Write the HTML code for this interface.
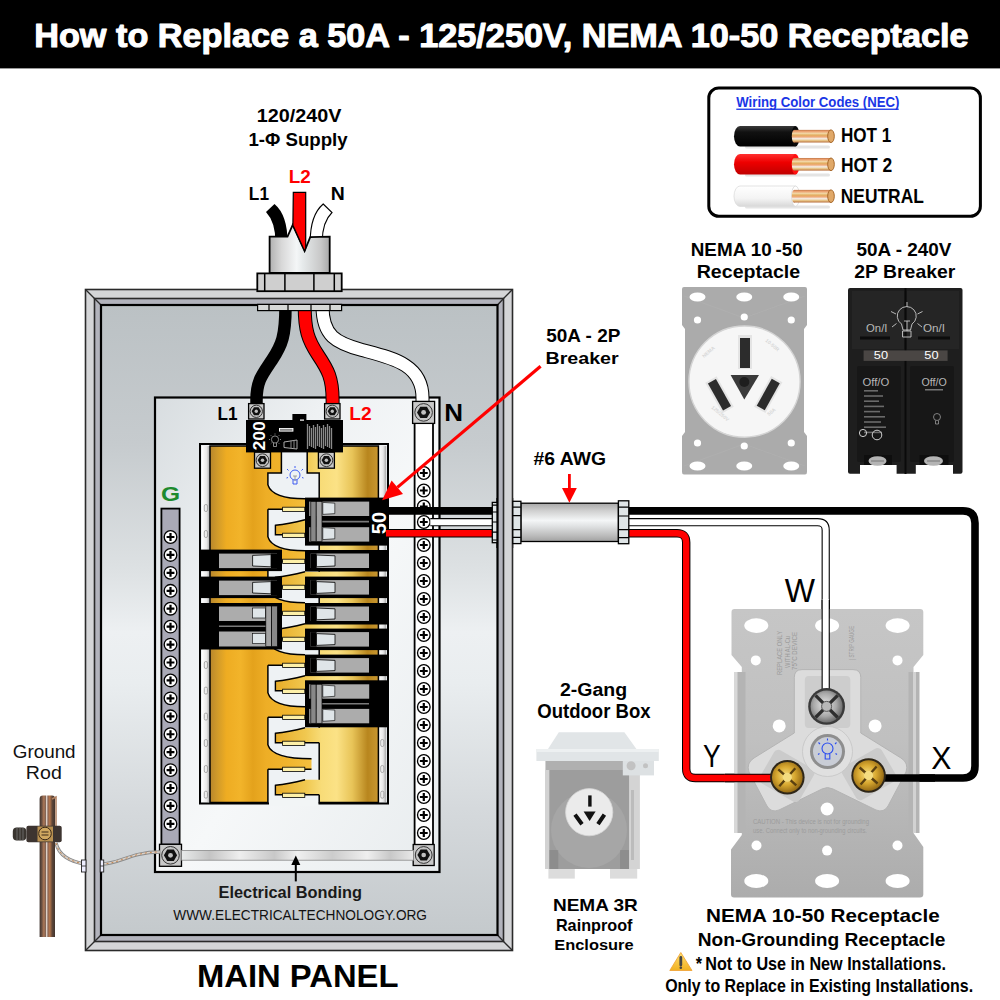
<!DOCTYPE html>
<html><head><meta charset="utf-8"><title>NEMA 10-50 Receptacle</title>
<style>html,body{margin:0;padding:0;background:#fff;}svg{display:block;}</style></head>
<body><svg width="1000" height="1000" viewBox="0 0 1000 1000">
<rect width="1000" height="1000" fill="#fff"/>
<defs>
<linearGradient id="interior" x1="0" y1="0" x2="0" y2="1">
 <stop offset="0" stop-color="#bbc1c4"/><stop offset="0.22" stop-color="#c6cbce"/><stop offset="0.42" stop-color="#dde1e3"/><stop offset="0.52" stop-color="#edf0f2"/><stop offset="0.6" stop-color="#e9edef"/><stop offset="0.8" stop-color="#d5d9dc"/><stop offset="1" stop-color="#c4c9cc"/>
</linearGradient>
<linearGradient id="dead" x1="0" y1="0" x2="1" y2="1">
 <stop offset="0" stop-color="#d8dde0"/><stop offset="0.3" stop-color="#eef1f3"/><stop offset="0.55" stop-color="#f6f8f9"/><stop offset="1" stop-color="#e8ecee"/>
</linearGradient>
<linearGradient id="goldL" gradientUnits="userSpaceOnUse" x1="210" y1="0" x2="312" y2="0">
 <stop offset="0" stop-color="#b8862c"/><stop offset="0.07" stop-color="#d09a2a"/><stop offset="0.16" stop-color="#eeac22"/><stop offset="0.3" stop-color="#f2b42a"/><stop offset="0.42" stop-color="#e4a21c"/><stop offset="0.55" stop-color="#eeae26"/><stop offset="0.75" stop-color="#f0b42c"/><stop offset="1" stop-color="#f4c040"/>
</linearGradient>
<linearGradient id="goldR" gradientUnits="userSpaceOnUse" x1="275" y1="0" x2="378" y2="0">
 <stop offset="0" stop-color="#e8ac28"/><stop offset="0.3" stop-color="#f0c850"/><stop offset="0.45" stop-color="#f8dc78"/><stop offset="0.6" stop-color="#fbe286"/><stop offset="0.75" stop-color="#e8c458"/><stop offset="0.9" stop-color="#b8861e"/><stop offset="1" stop-color="#c89630"/>
</linearGradient>
<linearGradient id="rail" x1="0" y1="0" x2="1" y2="0">
 <stop offset="0" stop-color="#ffffff"/><stop offset="0.6" stop-color="#e8e8e8"/><stop offset="1" stop-color="#a8a8a8"/>
</linearGradient>
<linearGradient id="cyl" x1="0" y1="0" x2="1" y2="0">
 <stop offset="0" stop-color="#b0b0b0"/><stop offset="0.2" stop-color="#d8d8d8"/><stop offset="0.45" stop-color="#f4f6f7"/><stop offset="0.55" stop-color="#e6eaeb"/><stop offset="0.85" stop-color="#c8c8c8"/><stop offset="1" stop-color="#a8a8a8"/>
</linearGradient>
<linearGradient id="cylH" x1="0" y1="0" x2="0" y2="1">
 <stop offset="0" stop-color="#a8a8a8"/><stop offset="0.2" stop-color="#d0d0d0"/><stop offset="0.45" stop-color="#f4f6f7"/><stop offset="0.6" stop-color="#e0e2e3"/><stop offset="0.85" stop-color="#bbbbbb"/><stop offset="1" stop-color="#a0a0a0"/>
</linearGradient>
<linearGradient id="bond" x1="0" y1="0" x2="1" y2="0">
 <stop offset="0" stop-color="#e8eaea"/><stop offset="0.12" stop-color="#c4c4c4"/><stop offset="0.25" stop-color="#eeeeee"/><stop offset="0.4" stop-color="#c8c8c8"/><stop offset="0.5" stop-color="#f0f0f0"/><stop offset="0.65" stop-color="#cccccc"/><stop offset="0.8" stop-color="#efefef"/><stop offset="0.9" stop-color="#c8c8c8"/><stop offset="1" stop-color="#e8e8e8"/>
</linearGradient>
<linearGradient id="copper" x1="0" y1="0" x2="1" y2="0">
 <stop offset="0" stop-color="#40342e"/><stop offset="0.14" stop-color="#6a5042"/><stop offset="0.28" stop-color="#b07a58"/><stop offset="0.38" stop-color="#806050"/><stop offset="0.46" stop-color="#ece4dc"/><stop offset="0.54" stop-color="#8a6454"/><stop offset="0.66" stop-color="#b8784c"/><stop offset="0.82" stop-color="#5e4638"/><stop offset="1" stop-color="#40342e"/>
</linearGradient>
<linearGradient id="cuwire" x1="0" y1="0" x2="0" y2="1">
 <stop offset="0" stop-color="#c07848"/><stop offset="0.12" stop-color="#eca070"/><stop offset="0.28" stop-color="#f2d6a4"/><stop offset="0.42" stop-color="#e2ae60"/><stop offset="0.55" stop-color="#f0a878"/><stop offset="0.7" stop-color="#f4f0ea"/><stop offset="0.85" stop-color="#e6c080"/><stop offset="1" stop-color="#b87040"/>
</linearGradient>
<linearGradient id="plateG" x1="0" y1="0" x2="0" y2="1"><stop offset="0" stop-color="#c6c6c6"/><stop offset="0.45" stop-color="#c0c0c0"/><stop offset="1" stop-color="#acacac"/></linearGradient>
<radialGradient id="brass" cx="0.45" cy="0.45" r="0.6">
 <stop offset="0" stop-color="#f8e080"/><stop offset="0.5" stop-color="#d8a830"/><stop offset="1" stop-color="#8a6010"/>
</radialGradient>
<radialGradient id="silver" cx="0.45" cy="0.45" r="0.6">
 <stop offset="0" stop-color="#e8e8e8"/><stop offset="0.6" stop-color="#a8a8a8"/><stop offset="1" stop-color="#606060"/>
</radialGradient>
<linearGradient id="warn" x1="0" y1="0" x2="0" y2="1">
 <stop offset="0" stop-color="#ffe070"/><stop offset="1" stop-color="#f0b020"/>
</linearGradient>
<linearGradient id="insB" x1="0" y1="0" x2="0" y2="1"><stop offset="0" stop-color="#3a3a3a"/><stop offset="0.3" stop-color="#111"/><stop offset="1" stop-color="#000"/></linearGradient>
<linearGradient id="insR" x1="0" y1="0" x2="0" y2="1"><stop offset="0" stop-color="#ff3030"/><stop offset="0.4" stop-color="#ee0000"/><stop offset="1" stop-color="#c00000"/></linearGradient>
<linearGradient id="insW" x1="0" y1="0" x2="0" y2="1"><stop offset="0" stop-color="#ffffff"/><stop offset="0.6" stop-color="#f4f4f4"/><stop offset="1" stop-color="#d8d8d8"/></linearGradient>
</defs>
<rect x="0" y="0" width="1000" height="68.4" fill="#000"/>
<text x="34.22" y="46.60" font-family="Liberation Sans" font-weight="bold" font-size="34.01" textLength="934.44" lengthAdjust="spacingAndGlyphs" fill="#fff" stroke="#fff" stroke-width="1.1" stroke-linejoin="round">How to Replace a 50A - 125/250V, NEMA 10-50 Receptacle</text>
<text x="256.75" y="121.90" font-family="Liberation Sans" font-weight="bold" font-size="19.19" textLength="84.68" lengthAdjust="spacingAndGlyphs" fill="#000" >120/240V</text>
<text x="248.42" y="145.70" font-family="Liberation Sans" font-weight="bold" font-size="18.02" textLength="99.28" lengthAdjust="spacingAndGlyphs" fill="#000" >1-Φ Supply</text>
<text x="288.74" y="183.00" font-family="Liberation Sans" font-weight="bold" font-size="18.90" textLength="22.02" lengthAdjust="spacingAndGlyphs" fill="#ff0000" >L2</text>
<text x="248.85" y="199.80" font-family="Liberation Sans" font-weight="bold" font-size="19.04" textLength="20.13" lengthAdjust="spacingAndGlyphs" fill="#000" >L1</text>
<text x="330.70" y="199.80" font-family="Liberation Sans" font-weight="bold" font-size="19.04" textLength="14.00" lengthAdjust="spacingAndGlyphs" fill="#000" >N</text>
<rect x="85.5" y="289.5" width="427" height="661" fill="#d4d5d7" stroke="#2a2a2a" stroke-width="1.6"/>
<rect x="94.5" y="298.5" width="409" height="643" fill="#b2b3bc" stroke="#2a2a2a" stroke-width="1.6"/>
<path d="M85.5,289.5 L94.5,298.5 M512.5,289.5 L503.5,298.5 M85.5,950.5 L94.5,941.5 M512.5,950.5 L503.5,941.5 M94.5,298.5 L101,305 M503.5,298.5 L497.5,305 M94.5,941.5 L101,935 M503.5,941.5 L497.5,935" stroke="#2a2a2a" stroke-width="1.4"/>
<rect x="101" y="305" width="396.5" height="630" fill="url(#interior)" stroke="#000" stroke-width="2.2"/>
<rect x="155" y="397.5" width="284.5" height="474.5" fill="url(#dead)" stroke="#000" stroke-width="2.2"/>
<path d="M266,212 L274.5,204 Q287.5,215 287.5,242 L275.4,242 Q275.4,222 266,212 Z" fill="#000"/>
<path d="M323.2,204 L332,212.5 Q322.2,222 322.2,242 L310.2,242 Q310.2,215 323.2,204 Z" fill="#fff" stroke="#000" stroke-width="1.1"/>
<path d="M269.6,273 L269.6,236.6 L287.5,236.6 L292.7,224.9 L304.6,251 L310.2,237.2 L329.7,236.6 L329.7,273 Z" fill="url(#cyl)" stroke="#000" stroke-width="1.8"/>
<path d="M293.3,192.4 L305.7,192.4 L305.7,248 L304.6,251 L292.9,225.3 Z" fill="#ff0000" stroke="#000" stroke-width="1.2"/>
<rect x="257.3" y="273.4" width="84.4" height="17.8" fill="#cfcfcf" stroke="#000" stroke-width="1.8"/>
<path d="M264.7,273.4 V291.2 M284.9,273.4 V291.2 M313.9,273.4 V291.2 M334.3,273.4 V291.2" stroke="#000" stroke-width="1.5"/>
<path d="M285.5,306 C285.5,336 282,345 272,360 C262,375 256.5,381 256.5,400 L256.5,408" fill="none" stroke="#000" stroke-width="12.5"/>
<path d="M304.7,306 C304.7,330 308,340 318,355 C328,370 332.6,378 332.6,400 L332.6,408" fill="none" stroke="#000" stroke-width="14"/>
<path d="M304.7,306 C304.7,330 308,340 318,355 C328,370 332.6,378 332.6,400 L332.6,408" fill="none" stroke="#ff0000" stroke-width="12"/>
<path d="M322.5,306 C322.5,336 336,343 362,350 C392,358 422.5,364 422.5,398 L422.5,405" fill="none" stroke="#000" stroke-width="14"/>
<path d="M322.5,306 C322.5,336 336,343 362,350 C392,358 422.5,364 422.5,398 L422.5,405" fill="none" stroke="#fff" stroke-width="12"/>
<rect x="257.6" y="304.4" width="84" height="6.2" fill="#d6d8d8" stroke="#000" stroke-width="1.2"/>
<path d="M269,304.4 V310.6 M288,304.4 V310.6 M311,304.4 V310.6 M330,304.4 V310.6" stroke="#000" stroke-width="1.2"/>
<rect x="161.4" y="508.6" width="18.2" height="336" fill="#a9a9b6" stroke="#000" stroke-width="1.8"/>
<circle cx="170.50" cy="537.00" r="6.3" fill="#fff" stroke="#000" stroke-width="1.3"/><path d="M166.59,537.00 H174.41 M170.50,533.09 V540.91" stroke="#000" stroke-width="2.2"/>
<circle cx="170.50" cy="554.93" r="6.3" fill="#fff" stroke="#000" stroke-width="1.3"/><path d="M166.59,554.93 H174.41 M170.50,551.02 V558.84" stroke="#000" stroke-width="2.2"/>
<circle cx="170.50" cy="572.86" r="6.3" fill="#fff" stroke="#000" stroke-width="1.3"/><path d="M166.59,572.86 H174.41 M170.50,568.95 V576.77" stroke="#000" stroke-width="2.2"/>
<circle cx="170.50" cy="590.79" r="6.3" fill="#fff" stroke="#000" stroke-width="1.3"/><path d="M166.59,590.79 H174.41 M170.50,586.88 V594.70" stroke="#000" stroke-width="2.2"/>
<circle cx="170.50" cy="608.72" r="6.3" fill="#fff" stroke="#000" stroke-width="1.3"/><path d="M166.59,608.72 H174.41 M170.50,604.81 V612.63" stroke="#000" stroke-width="2.2"/>
<circle cx="170.50" cy="626.65" r="6.3" fill="#fff" stroke="#000" stroke-width="1.3"/><path d="M166.59,626.65 H174.41 M170.50,622.74 V630.56" stroke="#000" stroke-width="2.2"/>
<circle cx="170.50" cy="644.58" r="6.3" fill="#fff" stroke="#000" stroke-width="1.3"/><path d="M166.59,644.58 H174.41 M170.50,640.67 V648.49" stroke="#000" stroke-width="2.2"/>
<circle cx="170.50" cy="662.51" r="6.3" fill="#fff" stroke="#000" stroke-width="1.3"/><path d="M166.59,662.51 H174.41 M170.50,658.60 V666.42" stroke="#000" stroke-width="2.2"/>
<circle cx="170.50" cy="680.44" r="6.3" fill="#fff" stroke="#000" stroke-width="1.3"/><path d="M166.59,680.44 H174.41 M170.50,676.53 V684.35" stroke="#000" stroke-width="2.2"/>
<circle cx="170.50" cy="698.37" r="6.3" fill="#fff" stroke="#000" stroke-width="1.3"/><path d="M166.59,698.37 H174.41 M170.50,694.46 V702.28" stroke="#000" stroke-width="2.2"/>
<circle cx="170.50" cy="716.30" r="6.3" fill="#fff" stroke="#000" stroke-width="1.3"/><path d="M166.59,716.30 H174.41 M170.50,712.39 V720.21" stroke="#000" stroke-width="2.2"/>
<circle cx="170.50" cy="734.23" r="6.3" fill="#fff" stroke="#000" stroke-width="1.3"/><path d="M166.59,734.23 H174.41 M170.50,730.32 V738.14" stroke="#000" stroke-width="2.2"/>
<circle cx="170.50" cy="752.16" r="6.3" fill="#fff" stroke="#000" stroke-width="1.3"/><path d="M166.59,752.16 H174.41 M170.50,748.25 V756.07" stroke="#000" stroke-width="2.2"/>
<circle cx="170.50" cy="770.09" r="6.3" fill="#fff" stroke="#000" stroke-width="1.3"/><path d="M166.59,770.09 H174.41 M170.50,766.18 V774.00" stroke="#000" stroke-width="2.2"/>
<circle cx="170.50" cy="788.02" r="6.3" fill="#fff" stroke="#000" stroke-width="1.3"/><path d="M166.59,788.02 H174.41 M170.50,784.11 V791.93" stroke="#000" stroke-width="2.2"/>
<circle cx="170.50" cy="805.95" r="6.3" fill="#fff" stroke="#000" stroke-width="1.3"/><path d="M166.59,805.95 H174.41 M170.50,802.04 V809.86" stroke="#000" stroke-width="2.2"/>
<circle cx="170.50" cy="823.88" r="6.3" fill="#fff" stroke="#000" stroke-width="1.3"/><path d="M166.59,823.88 H174.41 M170.50,819.97 V827.79" stroke="#000" stroke-width="2.2"/>
<rect x="159.50" y="844.30" width="22.00" height="22.00" fill="#c9c9c9" stroke="#000" stroke-width="1.3"/><circle cx="170.5" cy="855.3" r="8.80" fill="#c4c4c4" stroke="#333" stroke-width="1"/><polygon points="177.10,855.30 173.80,861.02 167.20,861.02 163.90,855.30 167.20,849.58 173.80,849.58" fill="#111"/><circle cx="170.5" cy="855.3" r="2.42" fill="#c0c0c0"/>
<text x="160.99" y="501.00" font-family="Liberation Sans" font-weight="bold" font-size="20.35" textLength="19.13" lengthAdjust="spacingAndGlyphs" fill="#1d8a2e" >G</text>
<rect x="414.6" y="420" width="18.4" height="426" fill="#fff" stroke="#000" stroke-width="1.8"/>
<circle cx="423.80" cy="473.00" r="6.3" fill="#fff" stroke="#000" stroke-width="1.3"/><path d="M419.89,473.00 H427.71 M423.80,469.09 V476.91" stroke="#000" stroke-width="2.2"/>
<circle cx="423.80" cy="490.50" r="6.3" fill="#fff" stroke="#000" stroke-width="1.3"/><path d="M419.89,490.50 H427.71 M423.80,486.59 V494.41" stroke="#000" stroke-width="2.2"/>
<circle cx="423.80" cy="506.50" r="6.3" fill="#fff" stroke="#000" stroke-width="1.3"/><path d="M419.89,506.50 H427.71 M423.80,502.59 V510.41" stroke="#000" stroke-width="2.2"/>
<circle cx="423.80" cy="522.00" r="6.3" fill="#fff" stroke="#000" stroke-width="1.3"/><path d="M419.89,522.00 H427.71 M423.80,518.09 V525.91" stroke="#000" stroke-width="2.2"/>
<circle cx="423.80" cy="545.00" r="6.3" fill="#fff" stroke="#000" stroke-width="1.3"/><path d="M419.89,545.00 H427.71 M423.80,541.09 V548.91" stroke="#000" stroke-width="2.2"/>
<circle cx="423.80" cy="563.00" r="6.3" fill="#fff" stroke="#000" stroke-width="1.3"/><path d="M419.89,563.00 H427.71 M423.80,559.09 V566.91" stroke="#000" stroke-width="2.2"/>
<circle cx="423.80" cy="581.00" r="6.3" fill="#fff" stroke="#000" stroke-width="1.3"/><path d="M419.89,581.00 H427.71 M423.80,577.09 V584.91" stroke="#000" stroke-width="2.2"/>
<circle cx="423.80" cy="599.00" r="6.3" fill="#fff" stroke="#000" stroke-width="1.3"/><path d="M419.89,599.00 H427.71 M423.80,595.09 V602.91" stroke="#000" stroke-width="2.2"/>
<circle cx="423.80" cy="617.00" r="6.3" fill="#fff" stroke="#000" stroke-width="1.3"/><path d="M419.89,617.00 H427.71 M423.80,613.09 V620.91" stroke="#000" stroke-width="2.2"/>
<circle cx="423.80" cy="635.00" r="6.3" fill="#fff" stroke="#000" stroke-width="1.3"/><path d="M419.89,635.00 H427.71 M423.80,631.09 V638.91" stroke="#000" stroke-width="2.2"/>
<circle cx="423.80" cy="653.00" r="6.3" fill="#fff" stroke="#000" stroke-width="1.3"/><path d="M419.89,653.00 H427.71 M423.80,649.09 V656.91" stroke="#000" stroke-width="2.2"/>
<circle cx="423.80" cy="671.00" r="6.3" fill="#fff" stroke="#000" stroke-width="1.3"/><path d="M419.89,671.00 H427.71 M423.80,667.09 V674.91" stroke="#000" stroke-width="2.2"/>
<circle cx="423.80" cy="689.00" r="6.3" fill="#fff" stroke="#000" stroke-width="1.3"/><path d="M419.89,689.00 H427.71 M423.80,685.09 V692.91" stroke="#000" stroke-width="2.2"/>
<circle cx="423.80" cy="707.00" r="6.3" fill="#fff" stroke="#000" stroke-width="1.3"/><path d="M419.89,707.00 H427.71 M423.80,703.09 V710.91" stroke="#000" stroke-width="2.2"/>
<circle cx="423.80" cy="725.00" r="6.3" fill="#fff" stroke="#000" stroke-width="1.3"/><path d="M419.89,725.00 H427.71 M423.80,721.09 V728.91" stroke="#000" stroke-width="2.2"/>
<circle cx="423.80" cy="743.00" r="6.3" fill="#fff" stroke="#000" stroke-width="1.3"/><path d="M419.89,743.00 H427.71 M423.80,739.09 V746.91" stroke="#000" stroke-width="2.2"/>
<circle cx="423.80" cy="761.00" r="6.3" fill="#fff" stroke="#000" stroke-width="1.3"/><path d="M419.89,761.00 H427.71 M423.80,757.09 V764.91" stroke="#000" stroke-width="2.2"/>
<circle cx="423.80" cy="779.00" r="6.3" fill="#fff" stroke="#000" stroke-width="1.3"/><path d="M419.89,779.00 H427.71 M423.80,775.09 V782.91" stroke="#000" stroke-width="2.2"/>
<circle cx="423.80" cy="797.00" r="6.3" fill="#fff" stroke="#000" stroke-width="1.3"/><path d="M419.89,797.00 H427.71 M423.80,793.09 V800.91" stroke="#000" stroke-width="2.2"/>
<circle cx="423.80" cy="815.00" r="6.3" fill="#fff" stroke="#000" stroke-width="1.3"/><path d="M419.89,815.00 H427.71 M423.80,811.09 V818.91" stroke="#000" stroke-width="2.2"/>
<circle cx="423.80" cy="833.00" r="6.3" fill="#fff" stroke="#000" stroke-width="1.3"/><path d="M419.89,833.00 H427.71 M423.80,829.09 V836.91" stroke="#000" stroke-width="2.2"/>
<rect x="412.60" y="401.40" width="22.00" height="22.00" fill="#c9c9c9" stroke="#000" stroke-width="1.3"/><circle cx="423.6" cy="412.4" r="8.80" fill="#c4c4c4" stroke="#333" stroke-width="1"/><polygon points="430.20,412.40 426.90,418.12 420.30,418.12 417.00,412.40 420.30,406.68 426.90,406.68" fill="#111"/><circle cx="423.6" cy="412.4" r="2.42" fill="#c0c0c0"/>
<rect x="413.20" y="844.50" width="21.00" height="21.00" fill="#c9c9c9" stroke="#000" stroke-width="1.3"/><circle cx="423.7" cy="855" r="8.40" fill="#c4c4c4" stroke="#333" stroke-width="1"/><polygon points="430.00,855.00 426.85,860.46 420.55,860.46 417.40,855.00 420.55,849.54 426.85,849.54" fill="#111"/><circle cx="423.7" cy="855" r="2.31" fill="#c0c0c0"/>
<text x="444.26" y="421.00" font-family="Liberation Sans" font-weight="bold" font-size="24.71" textLength="18.79" lengthAdjust="spacingAndGlyphs" fill="#000" >N</text>
<rect x="181.6" y="850.4" width="232" height="9.8" fill="url(#bond)" stroke="#8a8a8a" stroke-width="0.8"/>
<rect x="200" y="444" width="188" height="359.5" fill="#eef2f4" stroke="#000" stroke-width="2"/>
<rect x="269" y="800" width="49.5" height="6" fill="#f2f5f6"/>
<rect x="202" y="446" width="7.8" height="356" fill="url(#rail)"/>
<rect x="378.4" y="446" width="7.8" height="356" fill="url(#rail)"/>
<rect x="204.3" y="504.5" width="3.2" height="7" rx="1.5" fill="none" stroke="#999" stroke-width="0.8"/>
<rect x="204.3" y="530.5" width="3.2" height="7" rx="1.5" fill="none" stroke="#999" stroke-width="0.8"/>
<rect x="204.3" y="661.5" width="3.2" height="7" rx="1.5" fill="none" stroke="#999" stroke-width="0.8"/>
<rect x="204.3" y="687.1" width="3.2" height="7" rx="1.5" fill="none" stroke="#999" stroke-width="0.8"/>
<rect x="204.3" y="713.1" width="3.2" height="7" rx="1.5" fill="none" stroke="#999" stroke-width="0.8"/>
<rect x="204.3" y="739.5" width="3.2" height="7" rx="1.5" fill="none" stroke="#999" stroke-width="0.8"/>
<rect x="204.3" y="765.5" width="3.2" height="7" rx="1.5" fill="none" stroke="#999" stroke-width="0.8"/>
<rect x="204.3" y="791.2" width="3.2" height="7" rx="1.5" fill="none" stroke="#999" stroke-width="0.8"/>
<rect x="380.7" y="739.5" width="3.2" height="7" rx="1.5" fill="none" stroke="#999" stroke-width="0.8"/>
<rect x="380.7" y="765.5" width="3.2" height="7" rx="1.5" fill="none" stroke="#999" stroke-width="0.8"/>
<rect x="380.7" y="791.2" width="3.2" height="7" rx="1.5" fill="none" stroke="#999" stroke-width="0.8"/>
<path d="M210,446 H281.4 V473 H267.9 V802.5 H210 Z" fill="url(#goldL)" stroke="#000" stroke-width="1.5"/>
<path d="M307.2,446 H378.4 V802.5 H319.2 V473 H307.2 Z" fill="url(#goldR)" stroke="#000" stroke-width="1.5"/>
<path d="M266.5,485.0 L267.9,485.0 C271,494.3 284,498.8 305,498.8 L305,509.3 L266.5,509.3 Z" fill="url(#goldL)"/>
<path d="M267.9,485.0 C271,494.3 284,498.8 305,498.8 M305,509.3 L267.9,509.3" fill="none" stroke="#000" stroke-width="1.4"/>
<rect x="282.6" y="507.2" width="22.2" height="4.2" fill="#fdf0a8" stroke="#000" stroke-width="0.8"/>
<path d="M275.4,525.3 C285,524.3 295,522.3 305,519.8 L320.5,519.8 L320.5,534.8 L275.4,534.8 Z" fill="url(#goldR)"/>
<path d="M305,519.8 C295,522.3 285,524.3 275.4,525.3 L275.4,534.8 L319.2,534.8" fill="none" stroke="#000" stroke-width="1.4"/>
<rect x="282.6" y="533.2" width="22.2" height="4.2" fill="#fdf0a8" stroke="#000" stroke-width="0.8"/>
<path d="M266.5,537.0 L267.9,537.0 C271,546.3 284,550.8 305,550.8 L305,561.3 L266.5,561.3 Z" fill="url(#goldL)"/>
<path d="M267.9,537.0 C271,546.3 284,550.8 305,550.8 M305,561.3 L267.9,561.3" fill="none" stroke="#000" stroke-width="1.4"/>
<rect x="282.6" y="559.2" width="22.2" height="4.2" fill="#fdf0a8" stroke="#000" stroke-width="0.8"/>
<path d="M275.4,577.3 C285,576.3 295,574.3 305,571.8 L320.5,571.8 L320.5,586.8 L275.4,586.8 Z" fill="url(#goldR)"/>
<path d="M305,571.8 C295,574.3 285,576.3 275.4,577.3 L275.4,586.8 L319.2,586.8" fill="none" stroke="#000" stroke-width="1.4"/>
<rect x="282.6" y="585.2" width="22.2" height="4.2" fill="#fdf0a8" stroke="#000" stroke-width="0.8"/>
<path d="M266.5,589.0 L267.9,589.0 C271,598.3 284,602.8 305,602.8 L305,613.3 L266.5,613.3 Z" fill="url(#goldL)"/>
<path d="M267.9,589.0 C271,598.3 284,602.8 305,602.8 M305,613.3 L267.9,613.3" fill="none" stroke="#000" stroke-width="1.4"/>
<rect x="282.6" y="611.2" width="22.2" height="4.2" fill="#fdf0a8" stroke="#000" stroke-width="0.8"/>
<path d="M275.4,629.3 C285,628.3 295,626.3 305,623.8 L320.5,623.8 L320.5,638.8 L275.4,638.8 Z" fill="url(#goldR)"/>
<path d="M305,623.8 C295,626.3 285,628.3 275.4,629.3 L275.4,638.8 L319.2,638.8" fill="none" stroke="#000" stroke-width="1.4"/>
<rect x="282.6" y="637.2" width="22.2" height="4.2" fill="#fdf0a8" stroke="#000" stroke-width="0.8"/>
<path d="M266.5,641.0 L267.9,641.0 C271,650.3 284,654.8 305,654.8 L305,665.3 L266.5,665.3 Z" fill="url(#goldL)"/>
<path d="M267.9,641.0 C271,650.3 284,654.8 305,654.8 M305,665.3 L267.9,665.3" fill="none" stroke="#000" stroke-width="1.4"/>
<rect x="282.6" y="663.2" width="22.2" height="4.2" fill="#fdf0a8" stroke="#000" stroke-width="0.8"/>
<path d="M275.4,681.3 C285,680.3 295,678.3 305,675.8 L320.5,675.8 L320.5,690.8 L275.4,690.8 Z" fill="url(#goldR)"/>
<path d="M305,675.8 C295,678.3 285,680.3 275.4,681.3 L275.4,690.8 L319.2,690.8" fill="none" stroke="#000" stroke-width="1.4"/>
<rect x="282.6" y="689.2" width="22.2" height="4.2" fill="#fdf0a8" stroke="#000" stroke-width="0.8"/>
<path d="M266.5,693.0 L267.9,693.0 C271,702.3 284,706.8 305,706.8 L305,717.3 L266.5,717.3 Z" fill="url(#goldL)"/>
<path d="M267.9,693.0 C271,702.3 284,706.8 305,706.8 M305,717.3 L267.9,717.3" fill="none" stroke="#000" stroke-width="1.4"/>
<rect x="282.6" y="715.2" width="22.2" height="4.2" fill="#fdf0a8" stroke="#000" stroke-width="0.8"/>
<path d="M275.4,733.3 C285,732.3 295,730.3 305,727.8 L320.5,727.8 L320.5,742.8 L275.4,742.8 Z" fill="url(#goldR)"/>
<path d="M305,727.8 C295,730.3 285,732.3 275.4,733.3 L275.4,742.8 L319.2,742.8" fill="none" stroke="#000" stroke-width="1.4"/>
<rect x="282.6" y="741.2" width="22.2" height="4.2" fill="#fdf0a8" stroke="#000" stroke-width="0.8"/>
<path d="M266.5,745.0 L267.9,745.0 C271,754.3 284,758.8 311.5,758.8 L311.5,769.3 L266.5,769.3 Z" fill="url(#goldL)"/>
<path d="M267.9,745.0 C271,754.3 284,758.8 311.5,758.8 M311.5,769.3 L267.9,769.3" fill="none" stroke="#000" stroke-width="1.4"/>
<rect x="282.6" y="767.2" width="22.2" height="4.2" fill="#fdf0a8" stroke="#000" stroke-width="0.8"/>
<path d="M275.4,785.3 C285,784.3 295,782.3 305,779.8 L320.5,779.8 L320.5,794.8 L275.4,794.8 Z" fill="url(#goldR)"/>
<path d="M305,779.8 C295,782.3 285,784.3 275.4,785.3 L275.4,794.8 L319.2,794.8" fill="none" stroke="#000" stroke-width="1.4"/>
<rect x="282.6" y="793.2" width="22.2" height="4.2" fill="#fdf0a8" stroke="#000" stroke-width="0.8"/>
<rect x="305" y="497.6" width="83" height="48" fill="#000"/><rect x="309.2" y="501.6" width="60" height="14.4" fill="#acacac"/><rect x="309.2" y="527.2" width="60" height="14.4" fill="#acacac"/><path d="M322,521.6 H369" stroke="#7a7a7a" stroke-width="1.6"/><path d="M322.8,502.40000000000003 L334.8,503.20000000000005 V513.6 L322.8,514.4 Z" fill="#dfe5e8" stroke="#000" stroke-width="0.6"/><path d="M322.8,527.6 L334.8,528.4 V538.8000000000001 L322.8,539.6 Z" fill="#dfe5e8" stroke="#000" stroke-width="0.6"/><rect x="310.8" y="501.6" width="5.4" height="40" fill="#888" stroke="#000" stroke-width="0.7"/><rect x="316.2" y="501.6" width="5.8" height="40" fill="#a2a2a2" stroke="#000" stroke-width="0.7"/>
<g transform="translate(386,533.6) rotate(-90)"><text x="-0.61" y="0.00" font-family="Liberation Sans" font-weight="bold" font-size="20.64" textLength="22.23" lengthAdjust="spacingAndGlyphs" fill="#fff" >50</text></g>
<rect x="305" y="550" width="83" height="21.5" fill="#000"/><rect x="310.6" y="553.5" width="58.4" height="14.5" fill="#acacac"/><rect x="310.6" y="553.5" width="6" height="14.5" fill="#000"/><path d="M316.5,555 L335,555.8 L335,566 L316.5,566.8 Z" fill="#dfe5e8" stroke="#000" stroke-width="0.8"/>
<rect x="305" y="576.6" width="83" height="21.5" fill="#000"/><rect x="310.6" y="580.1" width="58.4" height="14.5" fill="#acacac"/><rect x="310.6" y="580.1" width="6" height="14.5" fill="#000"/><path d="M316.5,581.6 L335,582.4 L335,592.6 L316.5,593.4 Z" fill="#dfe5e8" stroke="#000" stroke-width="0.8"/>
<rect x="305" y="603" width="83" height="21.5" fill="#000"/><rect x="310.6" y="606.5" width="58.4" height="14.5" fill="#acacac"/><rect x="310.6" y="606.5" width="6" height="14.5" fill="#000"/><path d="M316.5,608 L335,608.8 L335,619 L316.5,619.8 Z" fill="#dfe5e8" stroke="#000" stroke-width="0.8"/>
<rect x="305" y="628.6" width="83" height="21.5" fill="#000"/><rect x="310.6" y="632.1" width="58.4" height="14.5" fill="#acacac"/><rect x="310.6" y="632.1" width="6" height="14.5" fill="#000"/><path d="M316.5,633.6 L335,634.4 L335,644.6 L316.5,645.4 Z" fill="#dfe5e8" stroke="#000" stroke-width="0.8"/>
<rect x="305" y="654.6" width="83" height="21.5" fill="#000"/><rect x="310.6" y="658.1" width="58.4" height="14.5" fill="#acacac"/><rect x="310.6" y="658.1" width="6" height="14.5" fill="#000"/><path d="M316.5,659.6 L335,660.4 L335,670.6 L316.5,671.4 Z" fill="#dfe5e8" stroke="#000" stroke-width="0.8"/>
<rect x="305" y="680.3" width="83" height="47" fill="#000"/><rect x="309.2" y="684.3" width="60" height="14.4" fill="#acacac"/><rect x="309.2" y="708.9" width="60" height="14.4" fill="#acacac"/><path d="M322,703.8 H369" stroke="#7a7a7a" stroke-width="1.6"/><path d="M322.8,685.0999999999999 L334.8,685.9 V696.3 L322.8,697.0999999999999 Z" fill="#dfe5e8" stroke="#000" stroke-width="0.6"/><path d="M322.8,709.3 L334.8,710.0999999999999 V720.5 L322.8,721.3 Z" fill="#dfe5e8" stroke="#000" stroke-width="0.6"/><rect x="310.8" y="684.3" width="5.4" height="39" fill="#888" stroke="#000" stroke-width="0.7"/><rect x="316.2" y="684.3" width="5.8" height="39" fill="#a2a2a2" stroke="#000" stroke-width="0.7"/>
<rect x="200" y="549.6" width="82" height="21.5" fill="#000"/><rect x="219" y="553.6" width="58" height="14.5" fill="#acacac"/><rect x="271" y="553.6" width="6" height="14.5" fill="#000"/><path d="M252.6,555.4 L271,554.6 L271,566.8000000000001 L252.6,566.0 Z" fill="#dfe5e8" stroke="#000" stroke-width="0.8"/>
<rect x="200" y="576.6" width="82" height="21.5" fill="#000"/><rect x="219" y="580.6" width="58" height="14.5" fill="#acacac"/><rect x="271" y="580.6" width="6" height="14.5" fill="#000"/><path d="M252.6,582.4 L271,581.6 L271,593.8000000000001 L252.6,593.0 Z" fill="#dfe5e8" stroke="#000" stroke-width="0.8"/>
<rect x="200" y="603" width="82" height="46.5" fill="#000"/><rect x="219" y="606.5" width="58" height="14.5" fill="#acacac"/><rect x="219" y="631.5" width="58" height="15" fill="#acacac"/><path d="M219,626.25 H266" stroke="#7a7a7a" stroke-width="1.6"/><rect x="252.6" y="608" width="13" height="10" fill="#dfe5e8" stroke="#000" stroke-width="0.6"/><rect x="252.6" y="633.5" width="13" height="10" fill="#dfe5e8" stroke="#000" stroke-width="0.6"/><rect x="265.8" y="606" width="5.8" height="40.5" fill="#a2a2a2" stroke="#000" stroke-width="0.7"/><rect x="271.6" y="606" width="5.8" height="40.5" fill="#888" stroke="#000" stroke-width="0.7"/>
<rect x="292.4" y="414" width="14" height="8" fill="#000"/>
<rect x="246" y="420" width="97" height="32.4" fill="#000"/>
<rect x="300" y="419.5" width="4" height="1.2" fill="#fff"/>
<g transform="translate(265.4,450) rotate(-90)"><text x="-0.61" y="0.00" font-family="Liberation Sans" font-weight="bold" font-size="16.28" textLength="29.33" lengthAdjust="spacingAndGlyphs" fill="#fff" >200</text></g>
<rect x="279" y="428" width="14.4" height="3.6" fill="#fff"/><rect x="280" y="428.8" width="12.4" height="2" fill="#888"/>
<g stroke="#aaa" stroke-width="0.8" fill="none"><circle cx="275" cy="439.5" r="3.6"/><path d="M273.5,443 V446.5 H276.5 V443 M269,439.5 H270 M280,439.5 H281 M275,433.5 V434.5 M270.8,435.3 L271.5,436 M279.2,435.3 L278.5,436 M270.8,443.7 L271.5,443 M279.2,443.7 L278.5,443"/></g>
<path d="M284,442 L297,440 L297,449 L284,447.5 Z" fill="none" stroke="#aaa" stroke-width="1"/><path d="M291,440.5 V448.5 M294,440.3 V448.8" stroke="#888" stroke-width="1"/>
<path d="M307.5,424 V449" stroke="#8a8a8a" stroke-width="1.3"/>
<path d="M309.5,426 V446" stroke="#8a8a8a" stroke-width="1.3"/>
<path d="M311.5,428 V447" stroke="#8a8a8a" stroke-width="1.3"/>
<path d="M313.5,425 V448" stroke="#8a8a8a" stroke-width="1.3"/>
<path d="M315.5,427 V449" stroke="#8a8a8a" stroke-width="1.3"/>
<path d="M317.5,424 V446" stroke="#8a8a8a" stroke-width="1.3"/>
<path d="M319.5,426 V447" stroke="#8a8a8a" stroke-width="1.3"/>
<path d="M321.5,428 V448" stroke="#8a8a8a" stroke-width="1.3"/>
<path d="M323.5,425 V449" stroke="#8a8a8a" stroke-width="1.3"/>
<path d="M325.5,427 V446" stroke="#8a8a8a" stroke-width="1.3"/>
<path d="M327.5,424 V447" stroke="#8a8a8a" stroke-width="1.3"/>
<path d="M329.5,426 V448" stroke="#8a8a8a" stroke-width="1.3"/>
<path d="M331.5,428 V449" stroke="#8a8a8a" stroke-width="1.3"/>
<rect x="248.60" y="403.60" width="15.40" height="15.40" fill="#c9c9c9" stroke="#000" stroke-width="1.3"/><circle cx="256.3" cy="411.3" r="6.16" fill="#c4c4c4" stroke="#333" stroke-width="1"/><polygon points="260.92,411.30 258.61,415.30 253.99,415.30 251.68,411.30 253.99,407.30 258.61,407.30" fill="#111"/><circle cx="256.3" cy="411.3" r="1.69" fill="#c0c0c0"/>
<rect x="324.60" y="403.60" width="15.40" height="15.40" fill="#c9c9c9" stroke="#000" stroke-width="1.3"/><circle cx="332.3" cy="411.3" r="6.16" fill="#c4c4c4" stroke="#333" stroke-width="1"/><polygon points="336.92,411.30 334.61,415.30 329.99,415.30 327.68,411.30 329.99,407.30 334.61,407.30" fill="#111"/><circle cx="332.3" cy="411.3" r="1.69" fill="#c0c0c0"/>
<rect x="254.50" y="452.20" width="16.00" height="16.00" fill="#c9c9c9" stroke="#000" stroke-width="1.3"/><circle cx="262.5" cy="460.2" r="6.40" fill="#c4c4c4" stroke="#333" stroke-width="1"/><polygon points="267.30,460.20 264.90,464.36 260.10,464.36 257.70,460.20 260.10,456.04 264.90,456.04" fill="#111"/><circle cx="262.5" cy="460.2" r="1.76" fill="#c0c0c0"/>
<rect x="318.40" y="452.20" width="16.00" height="16.00" fill="#c9c9c9" stroke="#000" stroke-width="1.3"/><circle cx="326.4" cy="460.2" r="6.40" fill="#c4c4c4" stroke="#333" stroke-width="1"/><polygon points="331.20,460.20 328.80,464.36 324.00,464.36 321.60,460.20 324.00,456.04 328.80,456.04" fill="#111"/><circle cx="326.4" cy="460.2" r="1.76" fill="#c0c0c0"/>
<text x="217.45" y="419.60" font-family="Liberation Sans" font-weight="bold" font-size="19.19" textLength="20.03" lengthAdjust="spacingAndGlyphs" fill="#000" >L1</text>
<text x="349.31" y="419.60" font-family="Liberation Sans" font-weight="bold" font-size="19.19" textLength="22.46" lengthAdjust="spacingAndGlyphs" fill="#ff0000" >L2</text>
<g stroke="#2a4cf0" stroke-width="0.9" fill="none"><circle cx="295" cy="475" r="5"/><path d="M293,480 V484 H297 V480"/><path d="M295,466 V468 M287,469 L288.5,470.5 M303,469 L301.5,470.5 M286.5,478 L288,477.5 M303.5,478 L302,477.5"/></g>
<path d="M293,476 L297,476 M295,476 V481" stroke="#888" stroke-width="0.8"/>
<path d="M386,510.9 H963 Q975,510.9 975,522.9 V766 Q975,778 963,778 H878" fill="none" stroke="#000" stroke-width="7.6"/>
<path d="M430.3,522.2 H817.6 Q825.7,522.2 825.7,530.2 V700" fill="none" stroke="#000" stroke-width="8.2"/>
<path d="M430.3,522.2 H817.6 Q825.7,522.2 825.7,530.2 V700" fill="none" stroke="#fff" stroke-width="6"/>
<path d="M386,533.2 H677 Q686.2,533.2 686.2,542.4 V768.8 Q686.2,778 695.4,778 H785" fill="none" stroke="#000" stroke-width="8.4"/>
<path d="M386,533.2 H677 Q686.2,533.2 686.2,542.4 V768.8 Q686.2,778 695.4,778 H785" fill="none" stroke="#ff0000" stroke-width="6.4"/>
<rect x="497.5" y="498" width="6" height="50" fill="#b2b3bc"/><rect x="503.5" y="498" width="9" height="50" fill="#d4d5d7"/>
<path d="M497.5,498 V548" stroke="#000" stroke-width="2.2"/><path d="M503.5,498 V548 M512.5,498 V548" stroke="#2a2a2a" stroke-width="1.6"/>
<rect x="492.3" y="502.4" width="4.7" height="40.3" fill="#dfe5e7" stroke="#000" stroke-width="1.3"/><path d="M492.3,505.1 H497.0 M492.3,512 H497.0 M492.3,522 H497.0 M492.3,532.1 H497.0 M492.3,540 H497.0" stroke="#000" stroke-width="1.2"/>
<rect x="520.9" y="503.2" width="97.5" height="38.3" fill="url(#cylH)" stroke="#000" stroke-width="1.3"/>
<rect x="512.8" y="501.3" width="8.1" height="42.3" fill="#dfe5e7" stroke="#000" stroke-width="1.3"/><path d="M512.8,507.1 H520.9 M512.8,515.7 H520.9 M512.8,529.6 H520.9 M512.8,537.3 H520.9" stroke="#000" stroke-width="1.2"/>
<rect x="618.4" y="500.8" width="10.4" height="42.9" fill="#dfe5e7" stroke="#000" stroke-width="1.3"/><path d="M618.4,507.2 H628.8 M618.4,516 H628.8 M618.4,529.6 H628.8 M618.4,537.6 H628.8" stroke="#000" stroke-width="1.2"/>
<path d="M540.6,366.2 L397.4,487.4" stroke="#ff0000" stroke-width="3.2"/>
<polygon points="382.1,500.3 403,494 391.6,480.6" fill="#ff0000"/>
<rect x="568" y="474" width="2.8" height="15" fill="#ff0000"/><polygon points="562,488 576.8,488 569.4,502.7" fill="#ff0000"/>
<text x="546.22" y="341.90" font-family="Liberation Sans" font-weight="bold" font-size="18.17" textLength="74.12" lengthAdjust="spacingAndGlyphs" fill="#000" >50A - 2P</text>
<text x="545.49" y="363.50" font-family="Liberation Sans" font-weight="bold" font-size="17.01" textLength="73.21" lengthAdjust="spacingAndGlyphs" fill="#000" >Breaker</text>
<text x="533.58" y="464.80" font-family="Liberation Sans" font-weight="bold" font-size="18.60" textLength="72.39" lengthAdjust="spacingAndGlyphs" fill="#000" >#6 AWG</text>
<path d="M295.8,881.4 V862" stroke="#000" stroke-width="2"/><polygon points="295.8,855.4 291.3,865 300.3,865" fill="#000"/>
<text x="218.51" y="898.00" font-family="Liberation Sans" font-weight="bold" font-size="15.99" textLength="143.59" lengthAdjust="spacingAndGlyphs" fill="#1a1a1a" >Electrical Bonding</text>
<text x="173.34" y="920.40" font-family="Liberation Sans" font-weight="normal" font-size="14.24" textLength="253.67" lengthAdjust="spacingAndGlyphs" fill="#111" >WWW.ELECTRICALTECHNOLOGY.ORG</text>
<text x="197.03" y="987.00" font-family="Liberation Sans" font-weight="bold" font-size="30.52" textLength="201.46" lengthAdjust="spacingAndGlyphs" fill="#000" >MAIN PANEL</text>
<text x="12.75" y="757.50" font-family="Liberation Sans" font-weight="normal" font-size="17.44" textLength="62.86" lengthAdjust="spacingAndGlyphs" fill="#111" >Ground</text>
<text x="25.89" y="778.50" font-family="Liberation Sans" font-weight="normal" font-size="18.31" textLength="35.97" lengthAdjust="spacingAndGlyphs" fill="#111" >Rod</text>
<path d="M56,843 C59,856 70,861 84,864" fill="none" stroke="#8a8a8a" stroke-width="3.4"/>
<path d="M56,843 C59,856 70,861 84,864" fill="none" stroke="#d9d2cb" stroke-width="1.6"/>
<path d="M56,843 C59,856 70,861 84,864" fill="none" stroke="#c07a40" stroke-width="0.9" stroke-dasharray="2 3"/>
<path d="M101.5,864 C120,864 130,852 160,852" fill="none" stroke="#8a8a8a" stroke-width="3.4"/>
<path d="M101.5,864 C120,864 130,852 160,852" fill="none" stroke="#d9d2cb" stroke-width="1.6"/>
<path d="M101.5,864 C120,864 130,852 160,852" fill="none" stroke="#c07a40" stroke-width="0.9" stroke-dasharray="2 3"/>
<rect x="81.5" y="860" width="4.5" height="12" fill="#eef" stroke="#222" stroke-width="0.9"/><path d="M81.5,866 H86" stroke="#222" stroke-width="0.8"/>
<rect x="100.2" y="860" width="3.5" height="12" fill="#eef" stroke="#222" stroke-width="0.9"/><path d="M100.2,866 H103.7" stroke="#222" stroke-width="0.8"/>
<path d="M39.6,937 V799 Q39.6,795.6 43,795.6 H52 Q55,795.6 55,799 V937 Z" fill="url(#copper)"/>
<path d="M52,799 L56,797 L56,826" stroke="#b08060" stroke-width="1.5" fill="none"/>
<rect x="26.4" y="825.8" width="35.3" height="16.5" rx="2" fill="#3d3430"/>
<rect x="37.5" y="826.5" width="15.5" height="15" fill="#b89050"/><circle cx="45" cy="833.5" r="6.3" fill="#d0a860" stroke="#3a2818" stroke-width="1"/>
<path d="M41.5,832 H48.5 M41.5,835 H48.5" stroke="#3a2818" stroke-width="1"/>
<rect x="12.8" y="827.5" width="13.6" height="13" rx="4" fill="#3a3530"/><path d="M17,827.5 V840.5 M20,827.5 V840.5 M23,827.5 V840.5" stroke="#777" stroke-width="0.8"/>
<rect x="708.8" y="87.9" width="271.6" height="128.4" rx="10" fill="#fff" stroke="#000" stroke-width="3"/>
<text x="736.29" y="106.70" font-family="Liberation Sans" font-weight="bold" font-size="15.55" textLength="163.07" lengthAdjust="spacingAndGlyphs" fill="#1a36e6" >Wiring Color Codes (NEC)</text>
<rect x="736.3" y="108.6" width="162.4" height="1.3" fill="#1a36e6"/>
<rect x="745" y="145.4" width="85" height="3" rx="1.5" fill="#e4e4e4"/><path d="M740,126 H795.5 V146.4 H740 A6,10.200000000000003 0 0 1 740,126 Z" fill="url(#insB)"/><ellipse cx="795.5" cy="136.2" rx="4" ry="10.200000000000003" fill="#0a0a0a" stroke="#ccc" stroke-width="0"/><rect x="794" y="129.87599999999998" width="37" height="12.648000000000003" fill="url(#cuwire)"/><ellipse cx="794" cy="136.2" rx="2.2" ry="6.324000000000002" fill="url(#cuwire)"/><ellipse cx="831" cy="136.2" rx="3.3" ry="6.324000000000002" fill="#e0a868" stroke="#a06020" stroke-width="0.9"/>
<rect x="745" y="173.5" width="85" height="3" rx="1.5" fill="#e4e4e4"/><path d="M740,154.1 H795.5 V174.5 H740 A6,10.200000000000003 0 0 1 740,154.1 Z" fill="url(#insR)"/><ellipse cx="795.5" cy="164.3" rx="4" ry="10.200000000000003" fill="#ff1010" stroke="#ccc" stroke-width="0"/><rect x="794" y="157.976" width="37" height="12.648000000000003" fill="url(#cuwire)"/><ellipse cx="794" cy="164.3" rx="2.2" ry="6.324000000000002" fill="url(#cuwire)"/><ellipse cx="831" cy="164.3" rx="3.3" ry="6.324000000000002" fill="#e0a868" stroke="#a06020" stroke-width="0.9"/>
<rect x="745" y="205.4" width="85" height="3" rx="1.5" fill="#e4e4e4"/><path d="M740,186 H795.5 V206.4 H740 A6,10.200000000000003 0 0 1 740,186 Z" fill="url(#insW)"/><ellipse cx="795.5" cy="196.2" rx="4" ry="10.200000000000003" fill="#ffffff" stroke="#ccc" stroke-width="0.6"/><rect x="794" y="189.87599999999998" width="37" height="12.648000000000003" fill="url(#cuwire)"/><ellipse cx="794" cy="196.2" rx="2.2" ry="6.324000000000002" fill="url(#cuwire)"/><ellipse cx="831" cy="196.2" rx="3.3" ry="6.324000000000002" fill="#e0a868" stroke="#a06020" stroke-width="0.9"/>
<path d="M740,186 H795.5 M795.5,206.4 H740 A6,10.2 0 0 1 740,186" fill="none" stroke="#dcdcdc" stroke-width="0.8"/>
<text x="840.96" y="142.40" font-family="Liberation Sans" font-weight="bold" font-size="19.91" textLength="50.32" lengthAdjust="spacingAndGlyphs" fill="#000" >HOT 1</text>
<text x="840.94" y="172.20" font-family="Liberation Sans" font-weight="bold" font-size="19.62" textLength="51.26" lengthAdjust="spacingAndGlyphs" fill="#000" >HOT 2</text>
<text x="840.84" y="203.30" font-family="Liberation Sans" font-weight="bold" font-size="19.91" textLength="83.00" lengthAdjust="spacingAndGlyphs" fill="#000" >NEUTRAL</text>
<text x="690.75" y="255.75" font-family="Liberation Sans" font-weight="bold" font-size="18.53" textLength="112.02" lengthAdjust="spacingAndGlyphs" fill="#000" >NEMA 10 -50</text>
<text x="696.69" y="277.50" font-family="Liberation Sans" font-weight="bold" font-size="18.17" textLength="103.48" lengthAdjust="spacingAndGlyphs" fill="#000" >Receptacle</text>
<path d="M684,287 H805 Q807,287 807,289 V325 L804,329 V432 L807,436 V472 Q807,474.5 805,474.5 H684 Q682,474.5 682,472 V436 L685,432 V329 L682,325 V289 Q682,287 684,287 Z" fill="#ababab"/>
<path d="M684,296 L744,318 L805,296 M684,466 L744,444 L805,466" stroke="#b0b0b0" stroke-width="0.8" fill="none"/>
<ellipse cx="697.5" cy="297" rx="8" ry="4.6" fill="#fff"/>
<ellipse cx="697.5" cy="466" rx="8" ry="4.6" fill="#fff"/>
<ellipse cx="744.25" cy="297" rx="8" ry="4.6" fill="#fff"/>
<ellipse cx="744.25" cy="466" rx="8" ry="4.6" fill="#fff"/>
<ellipse cx="791.25" cy="297" rx="8" ry="4.6" fill="#fff"/>
<ellipse cx="791.25" cy="466" rx="8" ry="4.6" fill="#fff"/>
<circle cx="697.5" cy="320" r="3.6" fill="#fff"/>
<circle cx="744.25" cy="317" r="3.6" fill="#fff"/>
<circle cx="791.25" cy="320" r="3.6" fill="#fff"/>
<circle cx="697.5" cy="443" r="3.6" fill="#fff"/>
<circle cx="744.25" cy="446" r="3.6" fill="#fff"/>
<circle cx="791.25" cy="443" r="3.6" fill="#fff"/>
<circle cx="744.5" cy="381.6" r="55.6" fill="#f6f6f6" stroke="#d4d4d4" stroke-width="1.4"/>
<rect x="738" y="335" width="14" height="34" fill="#e4e4e4"/><rect x="740" y="338" width="10" height="30" fill="#2c2c2c"/>
<polygon points="730.6,375 759,375 744.3,399.6" fill="#3a3a3a"/><circle cx="744.3" cy="382" r="5" fill="#1e1e1e"/>
<g transform="translate(719.5,394.75) rotate(-29.3)"><rect x="-6.5" y="-17.5" width="13" height="35" fill="#e4e4e4"/><rect x="-4.6" y="-15.5" width="9.2" height="31" fill="#2c2c2c"/></g>
<g transform="translate(768.25,394.5) rotate(29)"><rect x="-6.5" y="-17.5" width="13" height="35" fill="#e4e4e4"/><rect x="-4.6" y="-15.5" width="9.2" height="31" fill="#2c2c2c"/></g>
<g fill="#d8d8d8" font-family="Liberation Sans" font-weight="bold" font-size="5"><text x="704" y="358" transform="rotate(-40 704 358)">NEMA</text><text x="765" y="341" transform="rotate(40 765 341)">10-50R</text><text x="711" y="408" transform="rotate(40 711 408)">125/250V</text><text x="769" y="416" transform="rotate(-40 769 416)">50A</text></g>
<text x="856.42" y="255.75" font-family="Liberation Sans" font-weight="bold" font-size="18.53" textLength="94.96" lengthAdjust="spacingAndGlyphs" fill="#000" >50A - 240V</text>
<text x="854.33" y="277.50" font-family="Liberation Sans" font-weight="bold" font-size="18.17" textLength="100.96" lengthAdjust="spacingAndGlyphs" fill="#000" >2P Breaker</text>
<rect x="848" y="288" width="114.5" height="185.75" rx="2" fill="#1e1e1e"/>
<rect x="852" y="291" width="52" height="58" fill="#252525"/><rect x="907" y="291" width="52" height="58" fill="#252525"/>
<path d="M905.5,288 V474" stroke="#0a0a0a" stroke-width="2"/>
<rect x="863.6" y="350.4" width="84" height="10.5" fill="#4a4644"/>
<text x="873.89" y="359.40" font-family="Liberation Sans" font-weight="normal" font-size="10.76" textLength="14.21" lengthAdjust="spacingAndGlyphs" fill="#fff" >50</text>
<text x="924.29" y="359.40" font-family="Liberation Sans" font-weight="normal" font-size="10.76" textLength="14.21" lengthAdjust="spacingAndGlyphs" fill="#fff" >50</text>
<text x="866.06" y="331.80" font-family="Liberation Sans" font-weight="normal" font-size="11.34" textLength="21.38" lengthAdjust="spacingAndGlyphs" fill="#b8b8b8" >On/I</text>
<text x="923.05" y="331.80" font-family="Liberation Sans" font-weight="normal" font-size="11.34" textLength="22.03" lengthAdjust="spacingAndGlyphs" fill="#b8b8b8" >On/I</text>
<g stroke="#c8c8c8" stroke-width="0.9" fill="none"><path d="M901.5,324 A9.5,9.5 0 1 1 912,324 L910.5,330 H903 Z"/><path d="M902.5,331 H911 V337 H902.5 Z M904,321 H910 M907,321 V331"/><path d="M907,302 V307 M891,311.5 L896,314 M922.5,311.5 L917.5,314 M892,327 L896.5,323.5 M922,327 L917.5,323.5"/></g>
<rect x="860" y="336.5" width="30" height="3" fill="#0c0c0c"/><rect x="918" y="336.5" width="32" height="3" fill="#0c0c0c"/><rect x="860" y="366" width="30" height="3" fill="#0c0c0c"/><rect x="918" y="366" width="32" height="3" fill="#0c0c0c"/>
<rect x="857" y="366" width="44" height="96" rx="2" fill="#171717"/><rect x="910" y="366" width="44" height="96" rx="2" fill="#171717"/>
<text x="862.47" y="385.50" font-family="Liberation Sans" font-weight="normal" font-size="11.63" textLength="26.77" lengthAdjust="spacingAndGlyphs" fill="#b8b8b8" >Off/O</text>
<text x="921.50" y="385.50" font-family="Liberation Sans" font-weight="normal" font-size="11.63" textLength="25.20" lengthAdjust="spacingAndGlyphs" fill="#b8b8b8" >Off/O</text>
<rect x="864" y="390.0" width="14" height="1.6" fill="#6a6a6a"/>
<rect x="864" y="395.2" width="19" height="1.6" fill="#6a6a6a"/>
<rect x="864" y="400.4" width="15" height="1.6" fill="#6a6a6a"/>
<rect x="864" y="405.6" width="20" height="1.6" fill="#6a6a6a"/>
<rect x="864" y="410.8" width="16" height="1.6" fill="#6a6a6a"/>
<rect x="864" y="416.0" width="21" height="1.6" fill="#6a6a6a"/>
<rect x="864" y="421.2" width="17" height="1.6" fill="#6a6a6a"/>
<rect x="864" y="426.4" width="22" height="1.6" fill="#6a6a6a"/>
<rect x="864" y="431.6" width="18" height="1.6" fill="#6a6a6a"/>
<g stroke="#aaa" stroke-width="0.7" fill="none"><circle cx="937" cy="417" r="3.5"/><path d="M935.5,420.5 V424 H938.5 V420.5"/></g>
<rect x="925" y="389" width="18" height="1.5" fill="#777"/>
<rect x="860" y="465" width="36.6" height="10" fill="#fff"/><rect x="915.8" y="465" width="37.2" height="10" fill="#fff"/>
<rect x="864" y="455" width="28" height="10" fill="#0e0e0e"/><rect x="919.5" y="455" width="29" height="10" fill="#0e0e0e"/>
<ellipse cx="877.5" cy="461" rx="9" ry="4.8" fill="#b4b4b4"/><ellipse cx="933.5" cy="461" rx="9.5" ry="4.8" fill="#b4b4b4"/>
<path d="M871,461 H884 M927,461 H940" stroke="#777" stroke-width="1.2"/>
<g fill="none" stroke="#cfcfcf" stroke-width="1"><circle cx="863" cy="433" r="3.6"/><circle cx="877" cy="435" r="4.8"/></g>
<text x="559.92" y="696.00" font-family="Liberation Sans" font-weight="bold" font-size="18.90" textLength="67.18" lengthAdjust="spacingAndGlyphs" fill="#000" >2-Gang</text>
<text x="537.24" y="717.80" font-family="Liberation Sans" font-weight="bold" font-size="19.48" textLength="113.30" lengthAdjust="spacingAndGlyphs" fill="#000" >Outdoor Box</text>
<rect x="545.2" y="760" width="94.4" height="109" fill="#c9c9c9"/>
<rect x="549.2" y="768" width="80" height="101" fill="#9d9d9d"/>
<circle cx="589" cy="830" r="38" fill="#a6a6a6"/>
<rect x="545.2" y="768" width="4" height="101" fill="#d2d2d2"/><rect x="629.2" y="768" width="10.4" height="101" fill="#d4d4d4"/><rect x="631" y="790" width="3" height="70" fill="#bcbcbc"/>
<rect x="549.2" y="850" width="9" height="19" fill="#707070" opacity="0.35"/><rect x="620" y="850" width="9" height="19" fill="#707070" opacity="0.35"/>
<rect x="546" y="761" width="77" height="9" fill="#b0b0b0"/>
<polygon points="558.8,732.2 624.4,732.2 636.4,749 658.8,749 658.8,761 536.4,761 536.4,749 548,749" fill="#e1e5e7"/>
<rect x="536.4" y="749" width="122.4" height="3" fill="#edf0f1"/>
<rect x="622.8" y="761" width="31.2" height="14.4" fill="#dde1e3"/>
<circle cx="631.1" cy="765.8" r="4.5" fill="#c2c2c2"/><circle cx="645.5" cy="765.8" r="2.5" fill="#c2c2c2"/>
<circle cx="589.2" cy="812.2" r="23.6" fill="#ebebeb" stroke="#d6d6d6" stroke-width="0.8"/>
<rect x="588.2" y="795.4" width="3.4" height="11.2" fill="#111"/><polygon points="583.6,811.4 595.6,811.4 589.6,821" fill="#111"/>
<path d="M575,814.6 L582,824.2 M604.4,814.6 L598,824.2" stroke="#111" stroke-width="4"/>
<rect x="548.4" y="869" width="26.4" height="9.6" fill="#dcdcdc"/><rect x="610" y="869" width="27.2" height="9.6" fill="#dcdcdc"/>
<text x="552.94" y="910.60" font-family="Liberation Sans" font-weight="bold" font-size="16.86" textLength="84.85" lengthAdjust="spacingAndGlyphs" fill="#000" >NEMA 3R</text>
<text x="555.92" y="930.90" font-family="Liberation Sans" font-weight="bold" font-size="15.99" textLength="76.55" lengthAdjust="spacingAndGlyphs" fill="#000" >Rainproof</text>
<text x="554.30" y="949.70" font-family="Liberation Sans" font-weight="bold" font-size="15.55" textLength="79.26" lengthAdjust="spacingAndGlyphs" fill="#000" >Enclosure</text>
<path d="M734.5,609 H920 Q923.3,609 923.3,612 V655 L913.5,667 V833 L923.3,847 V894.6 Q923.3,897.6 920,897.6 H734 Q731,897.6 731,894.6 V849.6 L741.8,835 V667 L731.5,655 V612 Q731.5,609 734.5,609 Z" fill="url(#plateG)"/>
<rect x="734.5" y="672" width="11" height="161" fill="#b4b4b4"/><rect x="734.5" y="672" width="3" height="161" fill="#d8d8d8"/>
<rect x="908.5" y="672" width="11" height="161" fill="#b4b4b4"/><rect x="913" y="672" width="3" height="161" fill="#d2d2d2"/>
<ellipse cx="756.3" cy="625.6" rx="12" ry="7.3" fill="#fff"/>
<ellipse cx="756.3" cy="881" rx="12" ry="7" fill="#fff"/>
<ellipse cx="827.1" cy="625.6" rx="12" ry="7.3" fill="#fff"/>
<ellipse cx="827.1" cy="881" rx="12" ry="7" fill="#fff"/>
<ellipse cx="897.6" cy="625.6" rx="12" ry="7.3" fill="#fff"/>
<ellipse cx="897.6" cy="881" rx="12" ry="7" fill="#fff"/>
<circle cx="755.8" cy="660.4" r="5" fill="#fff"/>
<circle cx="897.5" cy="660.4" r="5" fill="#fff"/>
<circle cx="779.2" cy="725.9" r="6.5" fill="#fff"/>
<circle cx="875.1" cy="725.9" r="6.5" fill="#fff"/>
<circle cx="827.1" cy="809" r="6.5" fill="#fff"/>
<circle cx="756.5" cy="845.5" r="5" fill="#fff"/>
<circle cx="827.1" cy="850.6" r="5" fill="#fff"/>
<circle cx="897.5" cy="845.5" r="5" fill="#fff"/>
<path d="M802,669.6 H853 Q860.8,669.6 860.8,677.5 V733 L901,758 Q909,763 906,772 L888,806 Q884,813 876,810 L833,789 Q827.5,786 822,789 L779,810 Q771,813 767,806 L749,772 Q746,763 754,758 L794.3,733 V677.5 Q794.3,669.6 802,669.6 Z" fill="#dcdcdc" stroke="#b4b4b4" stroke-width="1"/>
<rect x="804.8" y="676" width="45.5" height="52" rx="4" fill="#cdcdcd"/>
<g transform="translate(787.3,777.3) rotate(30)"><rect x="-24" y="-20" width="46" height="38" rx="5" fill="#cbcbcb"/></g>
<g transform="translate(868.6,775.5) rotate(-30)"><rect x="-22" y="-20" width="46" height="38" rx="5" fill="#cbcbcb"/></g>
<circle cx="827.5" cy="751.5" r="25" fill="#e0e0e0" stroke="#c4c4c4" stroke-width="0.8"/>
<path d="M825.7,600 V690" fill="none" stroke="#000" stroke-width="8.2"/><path d="M825.7,599 V691" fill="none" stroke="#fff" stroke-width="6"/>
<path d="M725,778 H775" fill="none" stroke="#000" stroke-width="8.4"/><path d="M724,778 H776" fill="none" stroke="#ff0000" stroke-width="6.4"/>
<path d="M880,778 H935" fill="none" stroke="#000" stroke-width="7.6"/>
<circle cx="826.6" cy="706.4" r="18.4" fill="#3a3a3a"/>
<circle cx="826.6" cy="706.4" r="16" fill="url(#silver)"/>
<path d="M815.5,695.3 L837.7,717.5 M837.7,695.3 L815.5,717.5" stroke="#2e2e2e" stroke-width="3.2"/>
<circle cx="826.6" cy="706.4" r="5" fill="#b8b8b8" stroke="#555" stroke-width="1"/>
<circle cx="827.5" cy="751.5" r="17.5" fill="#8e8e8e"/>
<circle cx="827.5" cy="751.5" r="14.5" fill="#c9cdd6"/>
<g stroke="#2a4cf0" stroke-width="1.1" fill="none"><circle cx="827.5" cy="748.5" r="5.5"/><path d="M825.2,754 V759 H829.8 V754 M827.5,738.5 V740.5 M818.5,742.5 L820,744 M836.5,742.5 L835,744 M818,754.5 L819.5,753.5 M837,754.5 L835.5,753.5"/></g>
<circle cx="787.3" cy="777.3" r="17.3" fill="#2e2618"/>
<circle cx="787.3" cy="777.3" r="15.3" fill="url(#brass)"/>
<path d="M778.3,769.3 L796.3,785.3 M795.3,768.3 L779.3,786.3" stroke="#5a4010" stroke-width="2.4"/>
<circle cx="787.3" cy="777.3" r="4.5" fill="#f4dc80"/>
<circle cx="868.6" cy="775.5" r="17.3" fill="#2e2618"/>
<circle cx="868.6" cy="775.5" r="15.3" fill="url(#brass)"/>
<path d="M859.6,767.5 L877.6,783.5 M876.6,766.5 L860.6,784.5" stroke="#5a4010" stroke-width="2.4"/>
<circle cx="868.6" cy="775.5" r="4.5" fill="#f4dc80"/>
<g fill="#9c9c9c" font-family="Liberation Sans" font-size="6.5"><text x="753" y="824" textLength="116" lengthAdjust="spacingAndGlyphs">CAUTION - This device is not for grounding</text><text x="753" y="833" textLength="114" lengthAdjust="spacingAndGlyphs">use. Connect only to non-grounding circuits.</text></g>
<g fill="#9a9a9a" font-family="Liberation Sans" font-size="6.5"><text transform="translate(782,675) rotate(-90)" textLength="44" lengthAdjust="spacingAndGlyphs">REPLACE ONLY</text><text transform="translate(789.5,668) rotate(-90)" textLength="32" lengthAdjust="spacingAndGlyphs">WITH AL-Cu</text><text transform="translate(797,670) rotate(-90)" textLength="38" lengthAdjust="spacingAndGlyphs">75°C DEVICE</text><text transform="translate(854,660) rotate(-90)" textLength="34" lengthAdjust="spacingAndGlyphs">| STRIP GAUGE</text></g>
<text x="784.66" y="602.20" font-family="Liberation Sans" font-weight="normal" font-size="33.72" textLength="30.25" lengthAdjust="spacingAndGlyphs" fill="#000" >W</text>
<text x="702.92" y="767.00" font-family="Liberation Sans" font-weight="normal" font-size="30.52" textLength="17.66" lengthAdjust="spacingAndGlyphs" fill="#000" >Y</text>
<text x="931.32" y="768.60" font-family="Liberation Sans" font-weight="normal" font-size="31.40" textLength="20.11" lengthAdjust="spacingAndGlyphs" fill="#000" >X</text>
<text x="706.02" y="922.20" font-family="Liberation Sans" font-weight="bold" font-size="18.60" textLength="233.68" lengthAdjust="spacingAndGlyphs" fill="#000" >NEMA 10-50 Receptacle</text>
<text x="697.72" y="946.20" font-family="Liberation Sans" font-weight="bold" font-size="18.60" textLength="247.73" lengthAdjust="spacingAndGlyphs" fill="#000" >Non-Grounding Receptacle</text>
<path d="M680.8,952.5 L692,970.5 H669.8 Z" fill="url(#warn)" stroke="#f0a030" stroke-width="0.8" stroke-linejoin="round"/>
<path d="M680.8,957.5 V965" stroke="#444" stroke-width="2.8" stroke-linecap="round"/><circle cx="680.8" cy="967.8" r="1.3" fill="#444"/>
<text x="695.75" y="969.60" font-family="Liberation Sans" font-weight="bold" font-size="17.73" textLength="250.16" lengthAdjust="spacingAndGlyphs" fill="#000" >* Not to Use in New Installations.</text>
<text x="665.14" y="992.00" font-family="Liberation Sans" font-weight="bold" font-size="17.73" textLength="307.95" lengthAdjust="spacingAndGlyphs" fill="#000" >Only to Replace in Existing Installations.</text>
</svg></body></html>
